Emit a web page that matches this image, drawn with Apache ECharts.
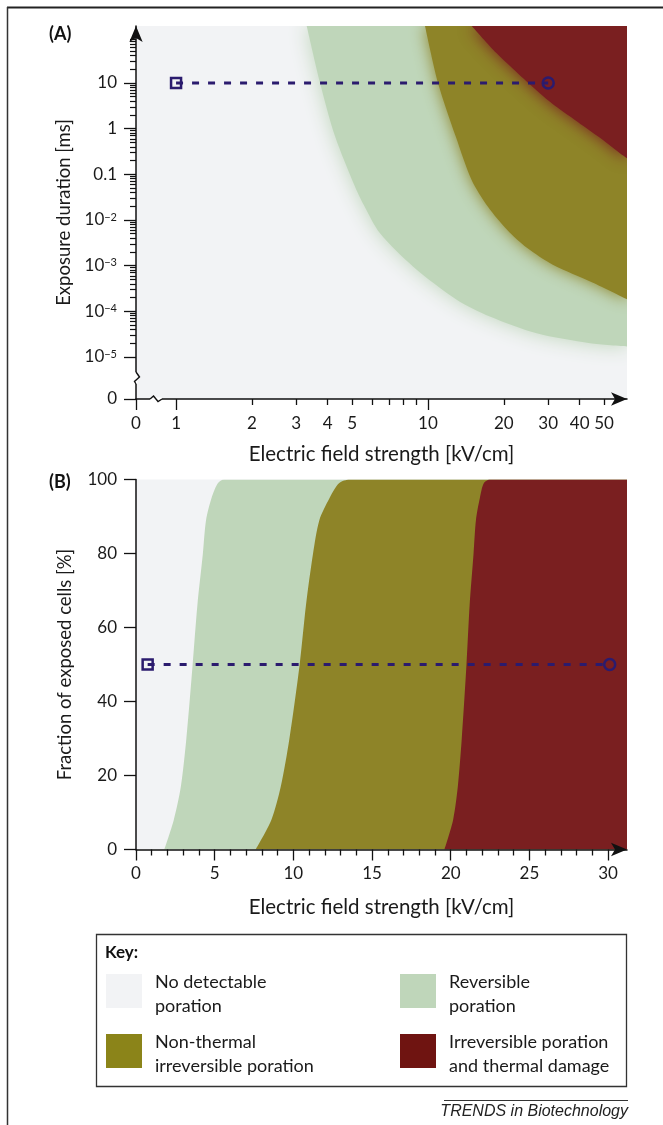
<!DOCTYPE html>
<html>
<head>
<meta charset="utf-8">
<script src="https://cdn.jsdelivr.net/npm/echarts@6/dist/echarts.min.js"></script>
<style>
  html, body { margin: 0; padding: 0; background: #fff; }
  #chart { width: 663px; height: 1125px; }
</style>
</head>
<body>
<div id="chart"></div>
<script>
// Panel A: exposure duration [ms] vs field [kV/cm], log-log with a break at 0.
// Each edge is where that region starts.
const greenEdgeA = [[3.3, 178], [3.73, 10], [4.28, 0.67], [5.13, 0.054], [5.57, 0.021], [6.45, 0.0051],
  [8.74, 0.00095], [13.0, 0.00018], [17.6, 0.000077], [27.0, 0.000033], [44.0, 0.00002], [62, 0.000017]];
const oliveEdgeA = [[9.73, 178], [10.96, 10], [12.9, 0.66], [14.9, 0.075], [17.3, 0.0194], [20.6, 0.0061],
  [24.7, 0.00245], [31.3, 0.00104], [45.2, 0.00042], [62, 0.00018]];
const redEdgeA = [[14.9, 178], [18.7, 45], [25.0, 10], [31.0, 3.6], [38.3, 1.55], [47.4, 0.67], [57.8, 0.29], [62, 0.22]];
const pulseA = [[1, 10], [30, 10]];

// Panel B: fraction of exposed cells [%] vs field [kV/cm]
const greenEdgeB = [[1.8, 0], [2.4, 8], [2.85, 17], [3.2, 30], [3.6, 50], [3.9, 66], [4.25, 80], [4.45, 89], [4.8, 95], [5.2, 99], [5.6, 100], [32, 100]];
const oliveEdgeB = [[7.6, 0], [8.6, 8], [9.2, 17], [9.75, 30], [10.4, 50], [10.8, 66], [11.25, 80], [11.65, 89], [12.3, 95], [12.9, 99], [13.6, 100], [32, 100]];
const redEdgeB = [[19.6, 0], [20.15, 8], [20.45, 17], [20.7, 30], [21.0, 50], [21.2, 66], [21.45, 80], [21.6, 89], [21.85, 95], [22.1, 99], [22.5, 100], [32, 100]];
const pulseB = [[0.74, 50], [30.1, 50]];

// ticks
const xLabelsA = [0, 1, 2, 3, 4, 5, 10, 20, 30, 40, 50];
const xMajorA = [0, 1, 10];
const xMinorA = [2, 3, 4, 5, 6, 7, 8, 9, 20, 30, 40, 50];
const yTicksA = [0, 1e-5, 1e-4, 1e-3, 1e-2, 0.1, 1, 10];
const yLabelsA = ['0', '10{s|−5}', '10{s|−4}', '10{s|−3}', '10{s|−2}', '0.1', '1', '10'];
const xMajorB = [0, 5, 10, 15, 20, 25, 30];
const xMinorB = [1, 2, 3, 4, 6, 7, 8, 9, 11, 12, 13, 14, 16, 17, 18, 19, 21, 22, 23, 24, 26, 27, 28, 29];

const regionNames = ['No detectable\nporation', 'Reversible\nporation', 'Non-thermal\nirreversible poration', 'Irreversible poration\nand thermal damage'];
const regionColors = ['#F2F3F5', '#BFD6BA', '#8E8428', '#7A1F20'];
const keyColors = ['#F2F3F5', '#BFD6BA', '#8B8419', '#6F1411'];
const navy = '#2B1B6E';
const FONT = 'Lato';

// axis transform for panel A: decades, with 0 placed before the break
const ZERO_X = -0.159, ZERO_Y = -5.92;
const X_MAX_A = 1.79, Y_MAX_A = 2.247, X_MAX_B = 31.2;
const ux = E => E === 0 ? ZERO_X : Math.log10(E);
const uy = t => t === 0 ? ZERO_Y : Math.log10(t);
const toA = arr => arr.map(p => [ux(p[0]), uy(p[1])]);

const yMinorA = [];
for (let k = -5; k <= 2; k++) {
  for (let m = 2; m <= 9; m++) {
    const v = m * Math.pow(10, k);
    if (uy(v) < Y_MAX_A) yMinorA.push(v);
  }
}

function pick(values, labels, tf) {
  return function (v) {
    for (let i = 0; i < values.length; i++) {
      if (Math.abs(tf(values[i]) - v) < 1e-6) return labels[i];
    }
    return '';
  };
}

const axisLine = { color: '#111', width: 1.5 };
const labelStyle = { fontFamily: FONT, fontSize: 17, color: '#1a1a1a' };
const xNameStyle = { fontFamily: FONT, fontSize: 20.5, color: '#1a1a1a' };
const yNameStyle = { fontFamily: FONT, fontSize: 18.5, color: '#1a1a1a' };
const arrow = { symbol: ['none', 'arrow'], symbolSize: [10, 16], symbolOffset: [0, 0] };

const chart = echarts.init(document.getElementById('chart'));

function regionSeries(data, color, xi, yi, origin, blur) {
  return {
    type: 'line',
    xAxisIndex: xi,
    yAxisIndex: yi,
    data: data,
    symbol: 'none',
    smooth: 0.28,
    lineStyle: { width: 0, color: color },
    areaStyle: {
      color: color,
      opacity: 1,
      origin: origin,
      shadowBlur: blur,
      shadowColor: blur ? color : 'transparent'
    },
    silent: true,
    animation: false,
    z: 2
  };
}

function pulseSeries(data, xi, yi) {
  return {
    type: 'line',
    xAxisIndex: xi,
    yAxisIndex: yi,
    data: [
      { value: data[0], symbol: 'rect', symbolSize: 10 },
      { value: data[1], symbol: 'circle', symbolSize: 11 }
    ],
    lineStyle: { color: navy, width: 3, type: [7, 9] },
    itemStyle: { color: 'rgba(0,0,0,0)', borderColor: navy, borderWidth: 2.5 },
    animation: false,
    z: 5
  };
}

const options = {
  animation: false,
  backgroundColor: '#fff',
  grid: [
    { left: 136, top: 26, width: 491, height: 373, show: true, backgroundColor: regionColors[0], borderWidth: 0, outerBoundsMode: 'none' },
    { left: 136, top: 479.5, width: 491, height: 370, show: true, backgroundColor: regionColors[0], borderWidth: 0, outerBoundsMode: 'none' }
  ],
  xAxis: [
    {
      type: 'value', gridIndex: 0, position: 'bottom', min: ZERO_X, max: X_MAX_A, z: 10,
      axisLine: Object.assign({ show: true, onZero: false, lineStyle: axisLine }, arrow),
      axisTick: { show: true, customValues: xMajorA.map(ux), length: 11, lineStyle: { color: '#111', width: 1.3 } },
      axisLabel: Object.assign({ customValues: xLabelsA.map(ux), margin: 16, formatter: pick(xLabelsA, xLabelsA.map(String), ux) }, labelStyle),
      splitLine: { show: false },
      name: 'Electric field strength [kV/cm]', nameLocation: 'middle', nameGap: 45, nameTextStyle: xNameStyle
    },
    {
      type: 'value', gridIndex: 0, position: 'bottom', min: ZERO_X, max: X_MAX_A, z: 10,
      axisLine: { show: false, onZero: false },
      axisTick: { show: true, customValues: xMinorA.map(ux), length: 6, lineStyle: { color: '#111', width: 1.3 } },
      axisLabel: { show: false },
      splitLine: { show: false }
    },
    {
      type: 'value', gridIndex: 1, position: 'bottom', min: 0, max: X_MAX_B, z: 10,
      axisLine: Object.assign({ show: true, onZero: false, lineStyle: axisLine }, arrow),
      axisTick: { show: true, customValues: xMajorB, length: 11, lineStyle: { color: '#111', width: 1.3 } },
      axisLabel: Object.assign({ customValues: xMajorB, margin: 16 }, labelStyle),
      splitLine: { show: false },
      name: 'Electric field strength [kV/cm]', nameLocation: 'middle', nameGap: 47, nameTextStyle: xNameStyle
    },
    {
      type: 'value', gridIndex: 1, position: 'bottom', min: 0, max: X_MAX_B, z: 10,
      axisLine: { show: false, onZero: false },
      axisTick: { show: true, customValues: xMinorB, length: 6, lineStyle: { color: '#111', width: 1.3 } },
      axisLabel: { show: false },
      splitLine: { show: false }
    }
  ],
  yAxis: [
    {
      type: 'value', gridIndex: 0, position: 'left', min: ZERO_Y, max: Y_MAX_A, z: 10,
      axisLine: Object.assign({ show: true, onZero: false, lineStyle: axisLine }, arrow),
      axisTick: { show: true, customValues: yTicksA.map(uy), length: 12, lineStyle: { color: '#111', width: 1.3 } },
      axisLabel: Object.assign({
        customValues: yTicksA.map(uy), margin: 19,
        formatter: pick(yTicksA, yLabelsA, uy),
        rich: { s: { fontFamily: FONT, fontSize: 11, color: '#1a1a1a', verticalAlign: 'top', lineHeight: 10 } }
      }, labelStyle),
      splitLine: { show: false },
      name: 'Exposure duration [ms]', nameLocation: 'middle', nameGap: 62, nameTextStyle: yNameStyle
    },
    {
      type: 'value', gridIndex: 0, position: 'left', min: ZERO_Y, max: Y_MAX_A, z: 10,
      axisLine: { show: false, onZero: false },
      axisTick: { show: true, customValues: yMinorA.map(uy), length: 6, lineStyle: { color: '#111', width: 1.2 } },
      axisLabel: { show: false },
      splitLine: { show: false }
    },
    {
      type: 'value', gridIndex: 1, position: 'left', min: 0, max: 100, interval: 20, z: 10,
      axisLine: { show: true, onZero: false, lineStyle: axisLine },
      axisTick: { show: true, length: 12, lineStyle: { color: '#111', width: 1.3 } },
      axisLabel: Object.assign({ margin: 19 }, labelStyle),
      splitLine: { show: false },
      name: 'Fraction of exposed cells [%]', nameLocation: 'middle', nameGap: 61, nameTextStyle: yNameStyle
    }
  ],
  series: [
    regionSeries(toA(greenEdgeA), regionColors[1], 0, 0, 'end', 20),
    regionSeries(toA(oliveEdgeA), regionColors[2], 0, 0, 'end', 16),
    regionSeries(toA(redEdgeA), regionColors[3], 0, 0, 'end', 16),
    pulseSeries(toA(pulseA), 0, 0),
    regionSeries(greenEdgeB, regionColors[1], 2, 2, 'start', 0),
    regionSeries(oliveEdgeB, regionColors[2], 2, 2, 'start', 0),
    regionSeries(redEdgeB, regionColors[3], 2, 2, 'start', 0),
    pulseSeries(pulseB, 2, 2)
  ]
};

chart.setOption(options);

// decorations: frame, panel letters, axis breaks, key, credit
const g = [];
g.push({ type: 'line', shape: { x1: 7, y1: 7.5, x2: 663, y2: 7.5 }, style: { stroke: '#222', lineWidth: 2 } });
g.push({ type: 'line', shape: { x1: 7.5, y1: 7, x2: 7.5, y2: 1125 }, style: { stroke: '#333', lineWidth: 1.5 } });
g.push({ type: 'text', style: { text: '(A)', x: 49, y: 34, fontFamily: FONT, fontSize: 18, fontWeight: 'bold', fill: '#111', verticalAlign: 'middle' } });
g.push({ type: 'text', style: { text: '(B)', x: 49, y: 482, fontFamily: FONT, fontSize: 18, fontWeight: 'bold', fill: '#111', verticalAlign: 'middle' } });

const bx = chart.convertToPixel({ xAxisIndex: 0, yAxisIndex: 0 }, [ZERO_X / 2, ZERO_Y]);
g.push({ type: 'line', z: 20, shape: { x1: bx[0] - 6, y1: bx[1], x2: bx[0] + 6, y2: bx[1] }, style: { stroke: '#fff', lineWidth: 3 } });
g.push({ type: 'polyline', z: 21, shape: { points: [[bx[0] - 6, bx[1]], [bx[0] - 2.5, bx[1] - 3], [bx[0] + 2, bx[1] + 2.5], [bx[0] + 6, bx[1]]] }, style: { stroke: '#111', lineWidth: 1.4, fill: null } });
const by = chart.convertToPixel({ xAxisIndex: 0, yAxisIndex: 0 }, [ZERO_X, (ZERO_Y - 5) / 2]);
g.push({ type: 'line', z: 20, shape: { x1: by[0], y1: by[1] - 6, x2: by[0], y2: by[1] + 6 }, style: { stroke: '#fff', lineWidth: 3 } });
g.push({ type: 'polyline', z: 21, shape: { points: [[by[0], by[1] - 6], [by[0] + 3.5, by[1] - 1], [by[0] - 1.5, by[1] + 3.5], [by[0], by[1] + 6]] }, style: { stroke: '#111', lineWidth: 1.4, fill: null } });

// key box
g.push({ type: 'rect', shape: { x: 96.5, y: 934.5, width: 530, height: 152 }, style: { fill: '#fff', stroke: '#333', lineWidth: 1.3 } });
g.push({ type: 'text', style: { text: 'Key:', x: 105, y: 953, fontFamily: FONT, fontSize: 17, fontWeight: 'bold', fill: '#111', verticalAlign: 'middle' } });
const keyPos = [[106, 974], [400, 974], [106, 1034], [400, 1034]];
regionNames.forEach((name, i) => {
  const p = keyPos[i];
  g.push({ type: 'rect', shape: { x: p[0], y: p[1], width: 36, height: 34 }, style: { fill: keyColors[i] } });
  g.push({ type: 'text', style: { text: name, x: p[0] + 49, y: p[1] + 20, fontFamily: FONT, fontSize: 18, lineHeight: 24, fill: '#1a1a1a', verticalAlign: 'middle' } });
});

// credit
g.push({ type: 'line', shape: { x1: 444, y1: 1100.5, x2: 628, y2: 1100.5 }, style: { stroke: '#333', lineWidth: 1 } });
g.push({ type: 'text', style: { text: 'TRENDS in Biotechnology', x: 628, y: 1112, align: 'right', verticalAlign: 'middle', fontFamily: 'Liberation Sans', fontStyle: 'italic', fontSize: 16, fill: '#222' } });

chart.setOption({ graphic: g });
</script>
</body>
</html>
